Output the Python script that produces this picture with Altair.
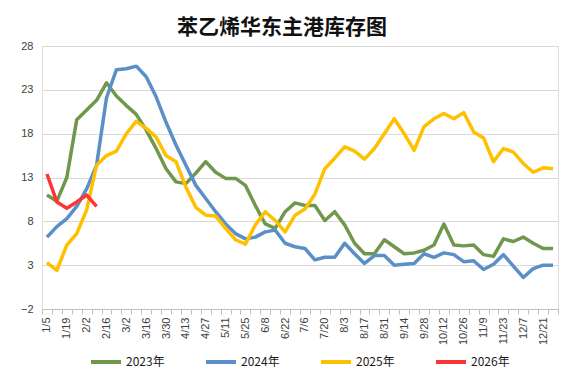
import altair as alt
import pandas as pd

weeks = ["1/5", "1/12", "1/19", "1/26", "2/2", "2/9", "2/16", "2/23", "3/2", "3/9",
         "3/16", "3/23", "3/30", "4/6", "4/13", "4/20", "4/27", "5/4", "5/11", "5/18",
         "5/25", "6/1", "6/8", "6/15", "6/22", "6/29", "7/6", "7/13", "7/20", "7/27",
         "8/3", "8/10", "8/17", "8/24", "8/31", "9/7", "9/14", "9/21", "9/28", "10/5",
         "10/12", "10/19", "10/26", "11/2", "11/9", "11/16", "11/23", "11/30", "12/7", "12/14",
         "12/21", "12/28"]

y2023 = [11.0, 10.3, 13.0, 19.6, 20.7, 21.8, 23.8, 22.3, 21.2, 20.2,
         18.4, 16.3, 14.0, 12.5, 12.3, 13.5, 14.8, 13.6, 12.9, 12.9,
         12.1, 9.8, 7.7, 7.2, 9.1, 10.1, 9.8, 9.8, 8.1, 9.1,
         7.6, 5.5, 4.3, 4.3, 5.9, 5.1, 4.3, 4.4, 4.7, 5.3,
         7.7, 5.3, 5.2, 5.3, 4.2, 4.0, 6.0, 5.7, 6.2, 5.5,
         4.9, 4.9]
y2024 = [6.2, 7.4, 8.3, 9.7, 11.7, 14.4, 22.1, 25.3, 25.4, 25.7,
         24.5, 22.2, 19.3, 16.7, 14.4, 12.1, 10.6, 9.1, 7.7, 6.6,
         6.0, 6.2, 6.8, 7.0, 5.5, 5.1, 4.9, 3.6, 3.9, 3.9,
         5.5, 4.3, 3.2, 4.1, 4.1, 3.0, 3.1, 3.2, 4.3, 3.9,
         4.4, 4.2, 3.4, 3.5, 2.5, 3.1, 4.2, 2.9, 1.6, 2.6,
         3.0, 3.0]
y2025 = [3.3, 2.4, 5.3, 6.6, 9.3, 14.4, 15.5, 16.0, 18.0, 19.4,
         18.6, 17.6, 15.5, 14.8, 11.9, 9.6, 8.7, 8.6, 7.2, 5.9,
         5.4, 7.6, 9.1, 8.1, 6.8, 8.7, 9.4, 11.1, 14.0, 15.2,
         16.5, 16.0, 15.1, 16.3, 18.0, 19.7, 18.0, 16.1, 18.8, 19.7,
         20.3, 19.7, 20.4, 18.2, 17.5, 14.8, 16.3, 15.9, 14.6, 13.6,
         14.1, 14.0]
y2026 = [13.4, 10.2, 9.5, 10.2, 11.0, 9.7]

series_names = ["2023年", "2024年", "2025年", "2026年"]
series_colors = ["#71974d", "#5b8fc7", "#ffc000", "#ff3535"]
y_ticks = [-2, 3, 8, 13, 18, 23, 28]

rows = []
for name, vals in zip(series_names, [y2023, y2024, y2025, y2026]):
    for i, v in enumerate(vals):
        rows.append({"wk": weeks[i], "v": v, "s": name})
df = pd.DataFrame(rows)

weeks_js = "[" + ",".join("'" + w + "'" for w in weeks) + "]"
label_expr = "indexof(" + weeks_js + ", datum.value) % 2 == 0 ? datum.value : ''"

chart = alt.Chart(df).mark_line(strokeWidth=3.5, strokeJoin="round").encode(
    x=alt.X(
        "wk:O",
        sort=weeks,
        bandPosition=0.5,
        scale=alt.Scale(type="band", domain=weeks, paddingInner=0, paddingOuter=0),
        axis=alt.Axis(
            title=None, labelAngle=-90, labelExpr=label_expr, tickBand="extent",
            ticks=True, tickSize=5, tickColor="#bfbfbf", domainColor="#bfbfbf",
            grid=False, labelOverlap=False, labelFontSize=11, labelColor="#404040",
            labelFont="Liberation Sans", labelPadding=3,
        ),
    ),
    y=alt.Y(
        "v:Q",
        scale=alt.Scale(domain=[-2, 28], nice=False, zero=False),
        axis=alt.Axis(
            title=None, values=y_ticks, domain=False, ticks=False, grid=True,
            gridColor="#d9d9d9", labelFontSize=11, labelColor="#404040",
            labelFont="Liberation Sans", labelPadding=9,
        ),
    ),
    color=alt.Color(
        "s:N",
        scale=alt.Scale(domain=series_names, range=series_colors),
        legend=alt.Legend(
            title=None, orient="none", direction="horizontal", legendX=47, legendY=299,
            symbolType="stroke", symbolStrokeWidth=4, symbolSize=900,
            labelFont="Noto Sans CJK SC", labelFontSize=12, labelColor="#1a1a1a",
            columnPadding=33, labelOffset=3,
        ),
    ),
).properties(
    width=516,
    height=263,
    title=alt.TitleParams(
        "苯乙烯华东主港库存图", fontSize=21, font="Noto Sans CJK SC", fontWeight="bold",
        color="#111111", anchor="middle", dx=-18, offset=2,
    ),
    autosize=alt.AutoSizeParams(type="none"),
    padding={"left": 34, "top": 38, "right": 11, "bottom": 69},
).configure_view(stroke=None).configure(background="white")

chart.save("out.html", embed_options={"renderer": "svg", "actions": False})
